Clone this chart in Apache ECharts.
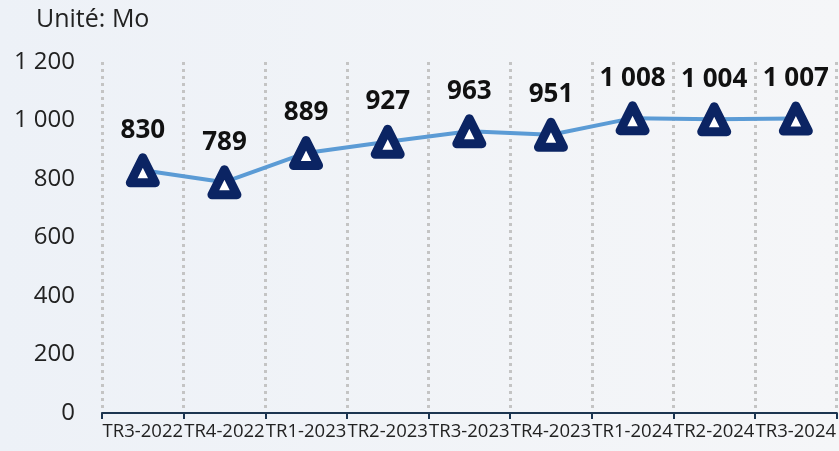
<!DOCTYPE html>
<html>
<head>
<meta charset="utf-8">
<script src="https://cdn.jsdelivr.net/npm/echarts@6/dist/echarts.min.js"></script>
<style>
  html, body { margin: 0; padding: 0; }
  #chart { width: 839px; height: 451px; }
</style>
</head>
<body>
<div id="chart"></div>
<script>
// données
var categories = ["TR3-2022", "TR4-2022", "TR1-2023", "TR2-2023", "TR3-2023", "TR4-2023", "TR1-2024", "TR2-2024", "TR3-2024"];
var values = [830, 789, 889, 927, 963, 951, 1008, 1004, 1007];
var yTicks = [0, 200, 400, 600, 800, 1000, 1200];

function fmt(v) {
  return String(v).replace(/\B(?=(\d{3})+(?!\d))/g, " ");
}

var chart = echarts.init(document.getElementById("chart"));
chart.setOption({
  backgroundColor: new echarts.graphic.LinearGradient(0, 0, 1, 0, [
    { offset: 0, color: "#edf1f7" },
    { offset: 1, color: "#f5f6f8" }
  ]),
  textStyle: { fontFamily: "Open Sans" },
  title: {
    text: "Unité: Mo",
    left: 31,
    top: 2,
    textStyle: { fontSize: 25, fontWeight: "normal", color: "#222", fontFamily: "Open Sans" }
  },
  grid: { left: 102, right: 1, top: 62, bottom: 38 },
  xAxis: {
    type: "category",
    data: categories,
    boundaryGap: true,
    axisLine: { lineStyle: { color: "#1c3550", width: 2 } },
    axisTick: { show: true, length: 6, lineStyle: { color: "#1c3550", width: 2 } },
    axisLabel: { interval: 0, fontSize: 18.5, color: "#222", margin: 9 },
    splitLine: { show: true, interval: 0, lineStyle: { color: "#c4c4c4", width: 3, type: [3, 4] } }
  },
  yAxis: {
    type: "value",
    min: yTicks[0],
    max: yTicks[yTicks.length - 1],
    interval: 200,
    axisLine: { show: false },
    axisTick: { show: false },
    splitLine: { show: false },
    axisLabel: { fontSize: 24, color: "#222", margin: 27, formatter: fmt }
  },
  series: [{
    type: "line",
    data: values,
    symbol: "triangle",
    symbolSize: 25,
    lineStyle: { color: "#5b9bd5", width: 4 },
    itemStyle: { color: "#ffffff", borderColor: "#0b2463", borderWidth: 9, borderJoin: "round" },
    label: {
      show: true,
      position: "top",
      distance: 10,
      fontSize: 26,
      fontWeight: "bold",
      color: "#111",
      formatter: function (p) { return fmt(p.value); }
    },
    animation: false
  }]
});
</script>
</body>
</html>
